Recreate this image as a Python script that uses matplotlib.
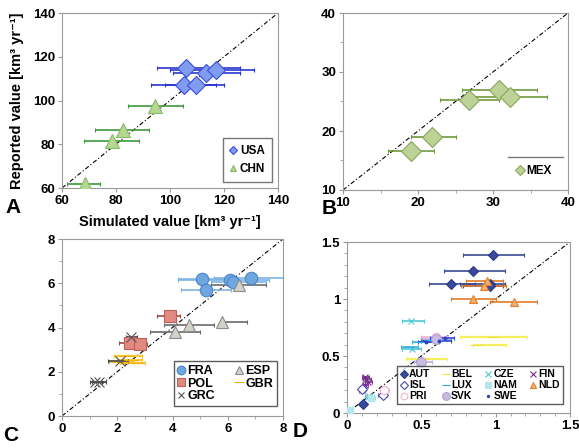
import matplotlib
matplotlib.use("Agg")
import matplotlib.pyplot as plt
import numpy as np

plt.rcParams['font.family'] = ['Liberation Sans', 'DejaVu Sans']
plt.rcParams['font.weight'] = 'bold'

# ---------------- Panel A data ----------------
usa_x = [106, 113.5, 117, 105, 109.5]
usa_y = [115, 112.5, 114, 107, 107]
usa_lo = [95, 101, 100, 93, 98]
usa_hi = [126, 126, 131, 117, 120]

chn_x = [94.5, 82.5, 78.5, 68.4]
chn_y = [97.3, 86.4, 81.3, 61.8]
chn_lo = [84.4, 72.1, 68.0, 62.0]
chn_hi = [104.8, 92.3, 88.4, 74.0]

# ---------------- Panel B data ----------------
mex_x = [30.8, 32.2, 26.8, 21.9, 19.1]
mex_y = [26.9, 25.7, 25.3, 18.9, 16.6]
mex_lo = [25.8, 27.5, 22.9, 19.0, 16.0]
mex_hi = [35.8, 37.2, 30.8, 25.0, 22.1]

# ---------------- Panel C data ----------------
fra_x = [6.84, 6.09, 6.2, 5.07, 5.21]
fra_y = [6.25, 6.15, 6.06, 6.17, 5.68]
fra_lo = [5.5, 4.2, 5.4, 4.2, 4.3]
fra_hi = [8.0, 7.5, 7.4, 6.2, 6.1]

esp_x = [6.39, 5.79, 4.61, 4.1]
esp_y = [5.9, 4.23, 4.11, 3.81]
esp_lo = [5.4, 5.79, 3.7, 3.2]
esp_hi = [7.4, 6.7, 5.5, 5.0]

pol_x = [3.9, 2.47, 2.81]
pol_y = [4.53, 3.29, 3.24]
pol_lo = [3.44, 2.05, 2.5]
pol_hi = [4.28, 2.9, 3.08]

gbr_x = [2.3, 2.5, 2.7, 2.2]
gbr_y = [2.7, 2.55, 2.4, 2.45]
gbr_lo = [1.9, 2.0, 2.1, 1.7]
gbr_hi = [2.9, 2.9, 3.0, 2.6]

grc_x = [1.2, 1.35, 2.5, 2.1]
grc_y = [1.55, 1.55, 3.55, 2.5]
grc_lo = [1.0, 1.1, 2.3, 1.65]
grc_hi = [1.45, 1.6, 2.7, 2.4]

# ---------------- Panel D data ----------------
aut_x = [0.98, 0.85, 0.70, 0.96, 0.96, 0.11, 0.01]
aut_y = [1.383, 1.246, 1.134, 1.134, 1.11, 0.08, 0.01]
aut_lo = [0.78, 0.65, 0.55, 0.76, 0.78, 0.09, 0.0]
aut_hi = [1.19, 1.06, 0.86, 1.06, 1.05, 0.13, 0.03]

bel_x = [0.98, 0.87, 0.51]
bel_y = [0.67, 0.60, 0.47]
bel_lo = [0.76, 0.85, 0.40]
bel_hi = [1.21, 1.07, 0.67]

cze_x = [0.43, 0.44, 0.15]
cze_y = [0.81, 0.56, 0.15]
cze_lo = [0.37, 0.37, 0.12]
cze_hi = [0.52, 0.50, 0.18]

fin_x = [0.12, 0.13, 0.14, 0.12, 0.10]
fin_y = [0.32, 0.30, 0.27, 0.25, 0.20]
fin_lo = [0.10, 0.11, 0.12, 0.10, 0.08]
fin_hi = [0.15, 0.16, 0.17, 0.14, 0.12]

isl_x = [0.24, 0.10]
isl_y = [0.16, 0.21]
isl_lo = [0.21, 0.08]
isl_hi = [0.27, 0.13]

lux_x = [0.42, 0.50, 0.56]
lux_y = [0.58, 0.62, 0.64]
lux_lo = [0.36, 0.44, 0.50]
lux_hi = [0.48, 0.62, 0.70]

nam_x = [0.16, 0.02]
nam_y = [0.13, 0.03]
nam_lo = [0.13, 0.0]
nam_hi = [0.19, 0.04]

nld_x = [1.12, 0.85, 0.94, 0.92]
nld_y = [0.97, 1.00, 1.16, 1.11]
nld_lo = [0.96, 0.70, 0.80, 0.77]
nld_hi = [1.28, 1.00, 1.05, 1.07]

pri_x = [0.25, 0.60]
pri_y = [0.20, 0.67]
pri_lo = [0.22, 0.50]
pri_hi = [0.28, 0.68]

svk_x = [0.60, 0.50]
svk_y = [0.65, 0.45]
svk_lo = [0.50, 0.45]
svk_hi = [0.70, 0.57]

swe_x = [0.53, 0.62, 0.66]
swe_y = [0.62, 0.63, 0.66]
swe_lo = [0.48, 0.50, 0.56]
swe_hi = [0.60, 0.70, 0.72]

fig = plt.figure(figsize=(5.79, 4.48), dpi=100)

def fr(l, t, r, b):
    return [l / 579, 1 - b / 448, (r - l) / 579, (b - t) / 448]

axA = fig.add_axes(fr(62, 13, 278, 188))
axB = fig.add_axes(fr(343, 13, 568, 190))
axC = fig.add_axes(fr(62, 239, 283, 416))
axD = fig.add_axes(fr(347, 242, 570, 413))

def style(ax, lo, hi, major, minor):
    ax.set_xlim(lo, hi)
    ax.set_ylim(lo, hi)
    ax.set_xticks(np.arange(lo, hi + 1e-9, major))
    ax.set_yticks(np.arange(lo, hi + 1e-9, major))
    if minor:
        ax.set_xticks(np.arange(lo, hi + 1e-9, minor), minor=True)
        ax.set_yticks(np.arange(lo, hi + 1e-9, minor), minor=True)
    for s in ax.spines.values():
        s.set_color('#9a9a9a')
        s.set_linewidth(0.8)
    ax.tick_params(which='both', direction='out', color='#9a9a9a', length=3,
                   labelsize=9.5, pad=2)
    ax.tick_params(which='minor', length=2)
    for lab in ax.get_xticklabels() + ax.get_yticklabels():
        lab.set_fontweight('bold')
    ax.plot([lo, hi], [lo, hi], color='black', lw=0.8, ls=(0, (4, 2, 1, 2)), zorder=1)

def series(ax, x, y, lo, hi, marker, fc, ec, errc, ms, label, lw=1.2):
    x = np.asarray(x); y = np.asarray(y)
    xerr = [x - np.asarray(lo), np.asarray(hi) - x]
    ax.errorbar(x, y, xerr=xerr, fmt='none', ecolor=errc, elinewidth=lw,
                capsize=1.5, capthick=0.8, zorder=2)
    ln, = ax.plot(x, y, ls='none', marker=marker, ms=ms, mfc=fc, mec=ec, mew=0.8,
                  zorder=3, label=label)
    return ln

# Panel A
style(axA, 60, 140, 20, None)
series(axA, usa_x, usa_y, usa_lo, usa_hi, 'D', '#7f9cf0', '#3a4fd8', '#2a36d0', 9, 'USA')
series(axA, chn_x, chn_y, chn_lo, chn_hi, '^', '#b3d88f', '#8bb86a', '#3d9a3d', 10, 'CHN')
legA = axA.legend(loc='lower right', fontsize=8.5, frameon=True, fancybox=False,
                  handlelength=0.5, handletextpad=0.3, markerscale=0.5,
                  borderpad=0.6, labelspacing=0.5)
legA.get_frame().set_edgecolor('#555555')
axA.set_xlabel('Simulated value [km³ yr⁻¹]', fontsize=10.5, fontweight='bold', labelpad=6)
axA.set_ylabel('Reported value [km³ yr⁻¹]', fontsize=10.5, fontweight='bold', labelpad=6)

# Panel B
style(axB, 10, 40, 10, 5)
series(axB, mex_x, mex_y, mex_lo, mex_hi, 'D', '#bcd296', '#8aa65a', '#6f9a3c', 10, 'MEX')
legB = axB.legend(loc='lower right', fontsize=8.5, frameon=False,
                  handlelength=0.5, handletextpad=0.3, markerscale=0.5,
                  borderpad=0.3, bbox_to_anchor=(0.97, 0.02))
axB.plot([32, 39.3], [15.6, 15.6], color='#777777', lw=1.0, zorder=4)

# Panel C
style(axC, 0, 8, 2, 1)
hC = {}
hC['FRA'] = series(axC, fra_x, fra_y, fra_lo, fra_hi, 'o', '#6ea6e0', '#4a86c8', '#7fb3e6', 9, 'FRA')
hC['ESP'] = series(axC, esp_x, esp_y, esp_lo, esp_hi, '^', '#d4d2c8', '#8a8a8a', '#6a6a6a', 8, 'ESP')
hC['POL'] = series(axC, pol_x, pol_y, pol_lo, pol_hi, 's', '#e08a82', '#c0605a', '#a04a44', 9, 'POL')
hC['GBR'] = series(axC, gbr_x, gbr_y, gbr_lo, gbr_hi, '_', '#f2c030', '#f2b000', '#f5c840', 10, 'GBR', lw=1.6)
hC['GRC'] = series(axC, grc_x, grc_y, grc_lo, grc_hi, 'x', '#555555', '#555555', '#444444', 7, 'GRC')
orderC = ['FRA', 'POL', 'GRC', 'ESP', 'GBR']
legC = axC.legend([hC[k] for k in orderC], orderC, loc='lower right', ncol=2,
                  fontsize=9, frameon=True, fancybox=False,
                  handlelength=0.6, handletextpad=0.2, markerscale=0.7,
                  borderpad=0.3, labelspacing=0.05, columnspacing=1.6,
                  bbox_to_anchor=(1.0, 0.02))
legC.get_frame().set_edgecolor('#333333')

# Panel D
style(axD, 0, 1.5, 0.5, 0.1)
axD.set_xticklabels(['0', '0.5', '1', '1.5'])
axD.set_yticklabels(['0', '0.5', '1', '1.5'])
hD = {}
hD['AUT'] = series(axD, aut_x, aut_y, aut_lo, aut_hi, 'D', '#3a4a9a', '#2a3a8a', '#3a4a90', 5, 'AUT')
hD['BEL'] = series(axD, bel_x, bel_y, bel_lo, bel_hi, '_', '#f5ee60', '#f0e040', '#f5ee60', 8, 'BEL', lw=1.6)
hD['CZE'] = series(axD, cze_x, cze_y, cze_lo, cze_hi, 'x', '#50c8d8', '#50c8d8', '#50c8d8', 5, 'CZE')
hD['FIN'] = series(axD, fin_x, fin_y, fin_lo, fin_hi, 'x', '#7a2a8a', '#7a2a8a', '#7a3a9a', 5, 'FIN')
hD['ISL'] = series(axD, isl_x, isl_y, isl_lo, isl_hi, 'D', 'white', '#4a4ab0', '#5a5ac0', 5, 'ISL')
hD['LUX'] = series(axD, lux_x, lux_y, lux_lo, lux_hi, '_', '#30a8e0', '#30a8e0', '#40b0d8', 7, 'LUX')
hD['NAM'] = series(axD, nam_x, nam_y, nam_lo, nam_hi, 's', '#b0e8f0', '#b0e8f0', '#90d8e8', 5, 'NAM')
hD['NLD'] = series(axD, nld_x, nld_y, nld_lo, nld_hi, '^', '#f0b070', '#e08030', '#e07a28', 6, 'NLD')
hD['PRI'] = series(axD, pri_x, pri_y, pri_lo, pri_hi, 'o', 'white', '#f0b0d0', '#f0b0d0', 6, 'PRI')
hD['SVK'] = series(axD, svk_x, svk_y, svk_lo, svk_hi, 'o', '#c8bce0', '#b0a0d0', '#c0b0e0', 7, 'SVK')
hD['SWE'] = series(axD, swe_x, swe_y, swe_lo, swe_hi, '.', '#2840c0', '#2840c0', '#3050d0', 4, 'SWE')
orderD = ['AUT', 'ISL', 'PRI', 'BEL', 'LUX', 'SVK', 'CZE', 'NAM', 'SWE', 'FIN', 'NLD']
legD = axD.legend([hD[k] for k in orderD], orderD, loc='lower right', ncol=4,
                  fontsize=7.5, frameon=True, fancybox=False,
                  handlelength=0.6, handletextpad=0.2, markerscale=0.8,
                  borderpad=0.3, labelspacing=0.1, columnspacing=1.2,
                  bbox_to_anchor=(0.99, 0.02))
legD.get_frame().set_edgecolor('#333333')

# Panel letters
for txt, x, y in [('A', 5, 213), ('B', 322, 214), ('C', 3, 441), ('D', 293, 437)]:
    fig.text(x / 579, 1 - y / 448, txt, fontsize=15, fontweight='bold', ha='left', va='baseline')

fig.savefig('out.png', dpi=100)
